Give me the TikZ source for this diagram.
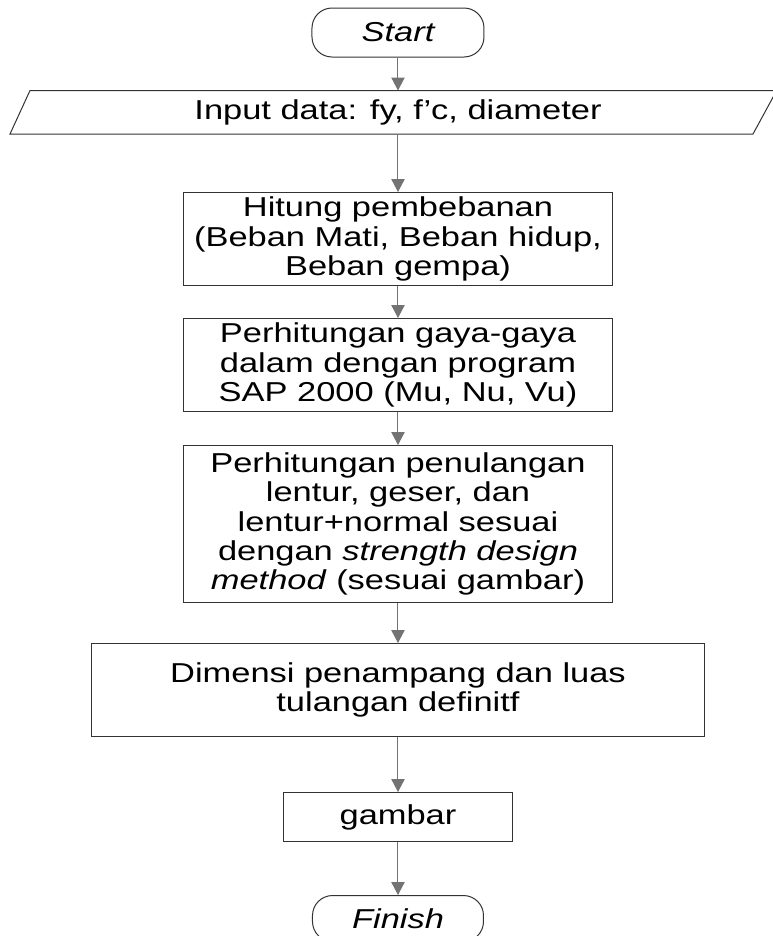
\documentclass[tikz,border=0pt]{standalone}
\usepackage{fontspec}
\setmainfont{Liberation Sans}[FakeStretch=1.26]
\usetikzlibrary{positioning, arrows.meta}

\begin{document}
\begin{tikzpicture}[->, >={Triangle[width=10pt,length=9.75pt]},
    font=\fontsize{20.5}{22}\selectfont,
    every edge/.style={draw, black!55, line width=0.75pt},
    terminal/.style={draw=black!80, line width=0.75pt, rounded corners=15pt,
      minimum width=129pt, minimum height=36.75pt, inner sep=0pt},
    proses/.style={draw=black!80, line width=0.75pt, align=center,
      minimum width=321.75pt, minimum height=69.75pt, inner sep=0pt}]
          \useasboundingbox (-298.5pt,24.375pt) rectangle (280.5pt,-677.625pt);
          \node (1) [terminal] {\itshape Start};
          \node (2) [below=24.75pt of 1, minimum height=32.25pt, inner sep=0pt] {Input data: fy, f’c, diameter};
          \node (3) [proses, below=43.5pt of 2] {Hitung pembebanan\\(Beban Mati, Beban hidup,\\Beban gempa)};
          \node (4) [proses, below=24pt of 3] {Perhitungan gaya-gaya\\dalam dengan program\\SAP 2000 (Mu, Nu, Vu)};
          \node (5) [proses, below=24.75pt of 4, minimum height=117.75pt] {Perhitungan penulangan\\lentur, geser, dan\\lentur+normal sesuai\\dengan \textit{strength design}\\\textit{method} (sesuai gambar)};
          \node (6) [proses, below=30pt of 5, minimum width=459pt] {Dimensi penampang dan luas\\tulangan definitf};
          \node (7) [proses, below=41.25pt of 6, minimum width=171.75pt, minimum height=36.75pt] {gambar};
          \node (8) [terminal, below=39.75pt of 7, minimum width=128.25pt, minimum height=34.5pt] {\itshape Finish};

          \draw[-, draw=black!80, line width=0.75pt]
            ([xshift=-291pt]2.south) -- ([xshift=-276pt]2.north)
            -- ([xshift=284pt]2.north) -- ([xshift=266.25pt]2.south) -- cycle;

		  \path
			(1) edge (2)
			(2) edge (3)
			(3) edge (4)
			(4) edge (5)
			(5) edge (6)
			(6) edge (7)
			(7) edge (8);

        \end{tikzpicture}
\end{document}
